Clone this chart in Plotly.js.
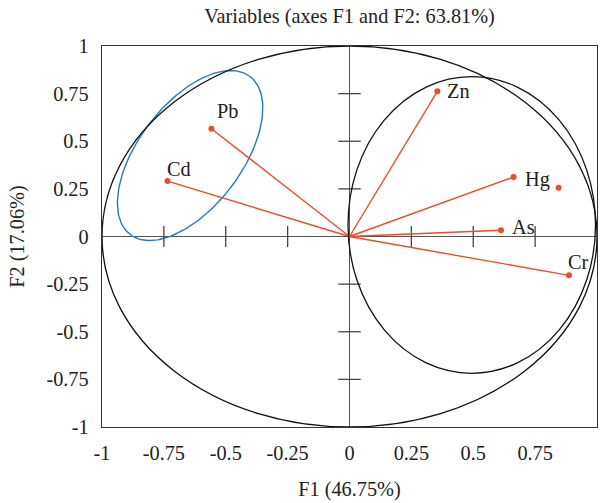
<!DOCTYPE html>
<html>
<head>
<meta charset="utf-8">
<script src="https://cdn.plot.ly/plotly-3.0.1.min.js"></script>
<style>html,body{margin:0;padding:0;background:#fff;}#chart{width:600px;height:503px;}</style>
</head>
<body>
<div id="chart"></div>
<script>
// Variables (active) and their loadings on F1 / F2
const variables = ["Zn", "Hg", "As", "Cr", "Pb", "Cd"];
const f1Values  = [0.355, 0.663, 0.612, 0.887, -0.558, -0.735];
const f2Values  = [0.762, 0.312, 0.033, -0.204, 0.566, 0.291];
// supplementary point (no vector, no label)
const suppF1 = [0.845];
const suppF2 = [0.256];
// axis tick values / labels
const tickVals = [-1, -0.75, -0.5, -0.25, 0, 0.25, 0.5, 0.75, 1];
const tickLabels = ["-1", "-0.75", "-0.5", "-0.25", "0", "0.25", "0.5", "0.75", "1"];
const innerTicks = [-0.75, -0.5, -0.25, 0.25, 0.5, 0.75];

const RED = "#ee4b2b";
const BLUE = "#1f7cc0";
const FONT = "Liberation Serif, Times New Roman, serif";
const FS = 20.3;

// label placement (styles)
const labelPlace = {
  Zn: {xanchor: "left", xshift: 8, yshift: 0},
  Hg: {xanchor: "left", xshift: 9, yshift: -2},
  As: {xanchor: "left", xshift: 9, yshift: 3},
  Cr: {xanchor: "left", xshift: -3, yshift: 13},
  Pb: {xanchor: "left", xshift: 4, yshift: 18},
  Cd: {xanchor: "left", xshift: -3, yshift: 12}
};

// vectors from origin
const vx = [], vy = [];
variables.forEach((v, i) => { vx.push(0, f1Values[i], null); vy.push(0, f2Values[i], null); });

// tilted cluster ellipse (geometry)
const ell = {cx: -0.644, cy: 0.425, ux: 0.242, uy: 0.415, wx: -0.1665, wy: 0.164};
const ex = [], ey = [];
for (let k = 0; k <= 200; k++) {
  const t = 2 * Math.PI * k / 200;
  ex.push(ell.cx + ell.ux * Math.cos(t) + ell.wx * Math.sin(t));
  ey.push(ell.cy + ell.uy * Math.cos(t) + ell.wy * Math.sin(t));
}

const traces = [
  {x: ex, y: ey, mode: "lines", line: {color: BLUE, width: 1.4}, hoverinfo: "skip", showlegend: false},
  {x: innerTicks, y: innerTicks.map(() => 0), mode: "markers", cliponaxis: false,
   marker: {symbol: "line-ns", size: 15, line: {color: "#444", width: 1.3}}, hoverinfo: "skip", showlegend: false},
  {x: innerTicks.map(() => 0), y: innerTicks, mode: "markers",
   marker: {symbol: "line-ew", size: 16, line: {color: "#444", width: 1.3}}, hoverinfo: "skip", showlegend: false},
  {x: vx, y: vy, mode: "lines", line: {color: RED, width: 1.4}, hoverinfo: "skip", showlegend: false},
  {x: f1Values, y: f2Values, text: variables, mode: "markers", marker: {color: RED, size: 6}, showlegend: false},
  {x: suppF1, y: suppF2, mode: "markers", marker: {color: RED, size: 6}, showlegend: false}
];

const annotations = variables.map((v, i) => Object.assign({
  x: f1Values[i], y: f2Values[i], text: v, showarrow: false, yanchor: "middle",
  font: {family: FONT, size: FS, color: "#222"}
}, labelPlace[v]));

const axisCommon = {
  range: [-1, 1], tickvals: tickVals, ticktext: tickLabels, ticks: "",
  showgrid: false, showline: true, mirror: true, linecolor: "#333", linewidth: 1.3,
  zeroline: true, zerolinecolor: "#555", zerolinewidth: 1.3,
  tickfont: {family: FONT, size: FS, color: "#222"}, fixedrange: true
};

const layout = {
  width: 600, height: 503,
  margin: {l: 102, r: 3, t: 46, b: 76},
  paper_bgcolor: "#fff", plot_bgcolor: "#fff",
  title: {text: "Variables (axes F1 and F2: 63.81%)", xref: "paper", x: 0.5, xanchor: "center", y: 0.983, yanchor: "top",
          font: {family: FONT, size: FS, color: "#222"}},
  xaxis: Object.assign({}, axisCommon, {title: {text: "F1 (46.75%)", standoff: 19, font: {family: FONT, size: FS, color: "#222"}}, ticklabelstandoff: 7}),
  yaxis: Object.assign({}, axisCommon, {title: {text: "F2 (17.06%)", standoff: 16, font: {family: FONT, size: FS, color: "#222"}}, ticklabelstandoff: 8}),
  shapes: [
    {type: "circle", xref: "x", yref: "y", x0: -1, x1: 1, y0: -1, y1: 1, line: {color: "#111", width: 1.3}},
    {type: "circle", xref: "x", yref: "y", x0: -0.006, x1: 0.994, y0: -0.718, y1: 0.839, line: {color: "#111", width: 1.3}}
  ],
  annotations: annotations,
  showlegend: false
};

Plotly.newPlot("chart", traces, layout, {displayModeBar: false, staticPlot: true});
</script>
</body>
</html>
